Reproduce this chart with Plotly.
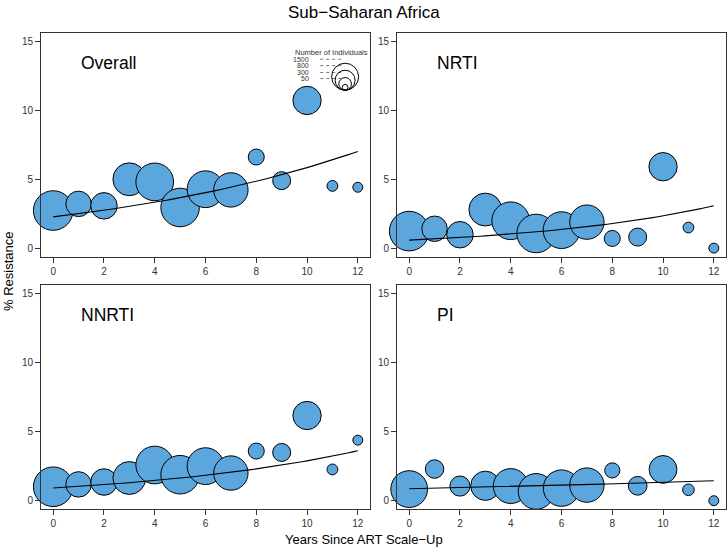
import numpy as np
import plotly.graph_objects as go

# ---------------- data ----------------
years = list(range(13))
panel_names = ["Overall", "NRTI", "NNRTI", "PI"]

overall_pct = [2.74, 3.22, 3.08, 5.0, 4.81, 2.96, 4.28, 4.23, 6.61, 4.9, 10.7, 4.52, 4.42]
nrti_pct = [1.25, 1.42, 0.99, 2.81, 2.0, 1.08, 1.32, 1.9, 0.72, 0.82, 5.91, 1.51, 0.02]
nnrti_pct = [1.01, 1.18, 1.35, 1.64, 2.58, 1.88, 2.5, 2.0, 3.59, 3.49, 6.16, 2.26, 4.38]
pi_pct = [0.84, 2.29, 1.06, 1.08, 1.06, 0.67, 0.91, 1.13, 2.19, 1.08, 2.26, 0.79, 0.0]

n_individuals = [1740, 720, 780, 1200, 1580, 1650, 1500, 1310, 285, 360, 890, 130, 110]
pi_n_individuals = [1500, 380, 450, 950, 1350, 1420, 1470, 1310, 255, 390, 860, 150, 110]

# logistic regression fits (intercept, slope on logit scale)
overall_fit = (-3.758, 0.0978)
nrti_fit = (-5.11, 0.1384)
nnrti_fit = (-4.679, 0.1162)
pi_fit = (-4.736, 0.0425)

legend_values = [1500, 800, 300, 50]
legend_labels = ["1500", "800", "300", "50"]

x_ticks = [0, 2, 4, 6, 8, 10, 12]
y_ticks = [0, 5, 10, 15]

# ---------------- style ----------------
W, H = 728, 551
FONT = "Liberation Sans, Arial, Helvetica, sans-serif"
FILL = "#5ca6de"
SIZEREF = 2.22

pct_list = [overall_pct, nrti_pct, nnrti_pct, pi_pct]
n_list = [n_individuals, n_individuals, n_individuals, pi_n_individuals]
fit_list = [overall_fit, nrti_fit, nnrti_fit, pi_fit]

# panel pixel boxes (left, right, top, bottom)
boxes = [(41, 370, 32.7, 256.7), (397, 726, 32.7, 256.7),
         (41, 370, 285, 509), (397, 726, 285, 509)]

fig = go.Figure()
layout = dict(width=W, height=H, margin=dict(l=0, r=0, t=0, b=0),
              paper_bgcolor="white", plot_bgcolor="white", showlegend=False,
              font=dict(family=FONT, color="#222"))

annotations = []
shapes = []

for i, name in enumerate(panel_names):
    k = "" if i == 0 else str(i + 1)
    xa, ya = "x" + k, "y" + k
    l, r, t, b = boxes[i]
    layout["xaxis" + k] = dict(domain=[l / W, r / W], anchor=ya, range=[-0.48, 12.48],
                               tickvals=x_ticks, ticks="outside", ticklen=5, tickwidth=1,
                               tickcolor="#333", showline=True, mirror=True, linecolor="#333",
                               linewidth=1, showgrid=False, zeroline=False,
                               tickfont=dict(size=10, color="#333", family=FONT))
    layout["yaxis" + k] = dict(domain=[1 - b / H, 1 - t / H], anchor=xa, range=[-0.6, 15.6],
                               tickvals=y_ticks, ticks="outside", ticklen=5, tickwidth=1,
                               tickcolor="#333", showline=True, mirror=True, linecolor="#333",
                               linewidth=1, showgrid=False, zeroline=False,
                               tickfont=dict(size=10, color="#333", family=FONT))
    fig.add_trace(go.Scatter(x=years, y=pct_list[i], mode="markers", xaxis=xa, yaxis=ya,
                             cliponaxis=False,
                             marker=dict(size=n_list[i], sizemode="area", sizeref=SIZEREF,
                                         color=FILL, opacity=1,
                                         line=dict(color="black", width=1))))
    a, s = fit_list[i]
    xs = np.linspace(0, 12, 61)
    ys = 100 / (1 + np.exp(-(a + s * xs)))
    fig.add_trace(go.Scatter(x=xs, y=ys, mode="lines", xaxis=xa, yaxis=ya,
                             line=dict(color="black", width=1.1)))
    annotations.append(dict(x=1.0, y=13.4, xref=xa, yref=ya, text=name, showarrow=False,
                            xanchor="left", yanchor="middle",
                            font=dict(size=17.5, color="black", family=FONT)))

# size legend in Overall panel
annotations.append(dict(x=10.96, y=14.18, xref="x", yref="y", text="Number of Individuals",
                        showarrow=False, xanchor="center", yanchor="middle",
                        font=dict(size=7.5, color="#333", family=FONT)))
label_y = [13.68, 13.22, 12.72, 12.29]
for lab, ly in zip(legend_labels, label_y):
    annotations.append(dict(x=10.17, y=ly, xref="x", yref="y", text=lab, showarrow=False,
                            xanchor="right", yanchor="middle",
                            font=dict(size=7, color="#333", family=FONT)))
    shapes.append(dict(type="line", xref="x", yref="y", x0=10.52, x1=11.45, y0=ly, y1=ly,
                       line=dict(color="#555", width=0.8, dash="dot")))
for v in legend_values:
    d = np.sqrt(v / SIZEREF) + 1
    shapes.append(dict(type="circle", xref="x", yref="y", xsizemode="pixel", ysizemode="pixel",
                       xanchor=11.5, yanchor=11.44, x0=-d / 2, x1=d / 2, y0=0, y1=d,
                       line=dict(color="black", width=1)))

annotations.append(dict(x=0.5, y=1 - 12 / H, xref="paper", yref="paper",
                        text="Sub\u2212Saharan Africa", showarrow=False,
                        xanchor="center", yanchor="middle",
                        font=dict(size=17, color="black", family=FONT)))
annotations.append(dict(x=0.5, y=1 - 539 / H, xref="paper", yref="paper",
                        text="Years Since ART Scale\u2212Up", showarrow=False,
                        xanchor="center", yanchor="middle",
                        font=dict(size=13, color="black", family=FONT)))
annotations.append(dict(x=8 / W, y=1 - 272 / H, xref="paper", yref="paper",
                        text="% Resistance", showarrow=False, textangle=-90,
                        xanchor="center", yanchor="middle",
                        font=dict(size=13, color="black", family=FONT)))

layout["annotations"] = annotations
layout["shapes"] = shapes
fig.update_layout(**layout)
fig.write_html("out.html", config={"displayModeBar": False},
               post_script="document.body.style.margin='0';document.body.style.overflow='hidden';")
